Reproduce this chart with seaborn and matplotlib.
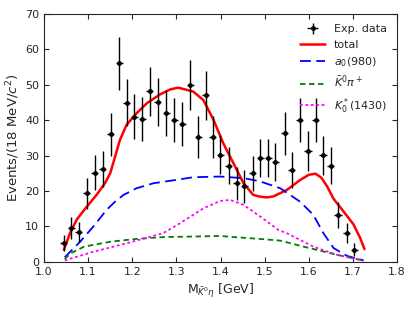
import matplotlib
matplotlib.use("Agg")
import matplotlib.pyplot as plt
import numpy as np
import pandas as pd
import seaborn as sns

# data points (bin centres, counts, errors)
data_x = [1.045, 1.062, 1.079, 1.097, 1.115, 1.133, 1.151, 1.171, 1.187, 1.204,
          1.223, 1.240, 1.258, 1.277, 1.295, 1.313, 1.331, 1.349, 1.366, 1.382,
          1.399, 1.419, 1.437, 1.454, 1.473, 1.490, 1.508, 1.524, 1.545, 1.561,
          1.579, 1.598, 1.616, 1.632, 1.650, 1.666, 1.686, 1.703]
data_y = [5.3, 9.5, 8.4, 19.4, 25.2, 26.2, 36.0, 56.1, 45.0, 41.0,
          40.3, 48.2, 45.2, 42.1, 40.1, 39.0, 50.0, 35.2, 47.0, 35.2,
          30.2, 27.1, 22.2, 21.3, 25.0, 29.3, 29.3, 28.2, 36.3, 26.0,
          40.1, 31.4, 40.1, 30.1, 27.1, 13.3, 8.1, 3.4]
data_err = [2.3, 3.1, 2.9, 4.4, 5.0, 5.1, 6.0, 7.5, 6.7, 6.4,
            6.3, 6.9, 6.7, 6.5, 6.3, 6.2, 7.1, 5.9, 6.9, 5.9,
            5.5, 5.2, 4.7, 4.6, 5.0, 5.4, 5.4, 5.3, 6.0, 5.1,
            6.3, 5.6, 6.3, 5.5, 5.2, 3.6, 2.8, 1.8]

# fit curves
total_x = [1.045, 1.059, 1.074, 1.097, 1.119, 1.138, 1.150, 1.161, 1.172, 1.187,
           1.210, 1.233, 1.263, 1.286, 1.304, 1.338, 1.361, 1.384, 1.406, 1.429,
           1.452, 1.474, 1.490, 1.505, 1.520, 1.550, 1.580, 1.600, 1.615, 1.628,
           1.641, 1.656, 1.675, 1.701, 1.716, 1.726]
total_y = [3.4, 8.1, 11.9, 15.6, 18.9, 22.2, 25.0, 29.7, 34.4, 38.7,
           42.0, 44.8, 47.3, 48.7, 49.2, 48.1, 45.7, 40.1, 33.5, 27.9,
           22.2, 18.9, 18.4, 18.2, 18.5, 20.3, 23.1, 24.6, 24.9, 23.8,
           21.4, 17.8, 14.8, 10.6, 6.8, 3.6]

a0_x = [1.047, 1.082, 1.112, 1.142, 1.161, 1.180, 1.210, 1.248, 1.286, 1.338,
        1.399, 1.455, 1.490, 1.535, 1.580, 1.610, 1.633, 1.656, 1.686, 1.724]
a0_y = [1.3, 5.7, 10.0, 14.7, 17.0, 18.9, 20.8, 22.2, 22.9, 23.9,
        24.1, 23.6, 22.7, 20.8, 17.0, 13.3, 8.1, 3.9, 1.7, 0.4]

kpi_x = [1.047, 1.060, 1.091, 1.151, 1.211, 1.270, 1.399, 1.497, 1.535, 1.588,
         1.663, 1.724]
kpi_y = [0.8, 2.4, 4.3, 5.7, 6.5, 7.0, 7.3, 6.4, 6.0, 4.3, 2.0, 0.4]

k0s_x = [1.047, 1.113, 1.189, 1.270, 1.308, 1.361, 1.399, 1.422, 1.452, 1.490,
         1.531, 1.550, 1.610, 1.663, 1.724]
k0s_y = [0.4, 2.9, 5.3, 8.1, 10.9, 15.1, 17.2, 17.5, 16.1, 12.8,
         9.0, 8.1, 4.3, 2.0, 0.3]

sns.set_style("ticks")
plt.rcParams["font.family"] = ["DejaVu Sans"]
plt.rcParams["font.size"] = 8
plt.rcParams["xtick.direction"] = "in"
plt.rcParams["ytick.direction"] = "in"

fig = plt.figure(figsize=(4.15, 3.11), dpi=100)
ax = fig.add_axes([0.106, 0.158, 0.851, 0.797])

ax.errorbar(data_x, data_y, yerr=data_err, xerr=0.008, fmt="o", color="k",
            ms=2.5, elinewidth=1, capsize=0, label="Exp. data", zorder=5)

curves = [
    (total_x, total_y, "red", "-", 1.8, "total"),
    (a0_x, a0_y, "blue", (0, (6, 3)), 1.3, "$a_0(980)$"),
    (kpi_x, kpi_y, "green", (0, (3, 2)), 1.3, r"$\bar{K}^0\pi^+$"),
    (k0s_x, k0s_y, "magenta", (0, (1.5, 1.5)), 1.3, "$K_0^*(1430)$"),
]
for cx, cy, col, ls, lw, lab in curves:
    df = pd.DataFrame({"x": cx, "y": cy})
    sns.lineplot(data=df, x="x", y="y", ax=ax, color=col, linestyle=ls,
                 linewidth=lw, label=lab, sort=False)

ax.set_xlim(1.0, 1.8)
ax.set_ylim(0, 70)
ax.set_xticks(np.arange(1.0, 1.81, 0.1))
ax.set_yticks(np.arange(0, 71, 10))
ax.tick_params(top=True, right=True, direction="in", length=3.5, labelsize=8)
for s in ax.spines.values():
    s.set_visible(True)
    s.set_linewidth(0.8)

ax.set_xlabel(r"M$_{\bar{K}^0\eta}$ [GeV]", fontsize=9)
ax.set_ylabel("Events/(18 MeV/$c^2$)", fontsize=9.5, labelpad=2)

handles, labels = ax.get_legend_handles_labels()
order = [labels.index("Exp. data")] + [i for i, l in enumerate(labels) if l != "Exp. data"]
ax.legend([handles[i] for i in order], [labels[i] for i in order],
          loc="upper right", frameon=False, fontsize=8, handlelength=2.2,
          labelspacing=0.5)

fig.savefig("out.png", dpi=100)
